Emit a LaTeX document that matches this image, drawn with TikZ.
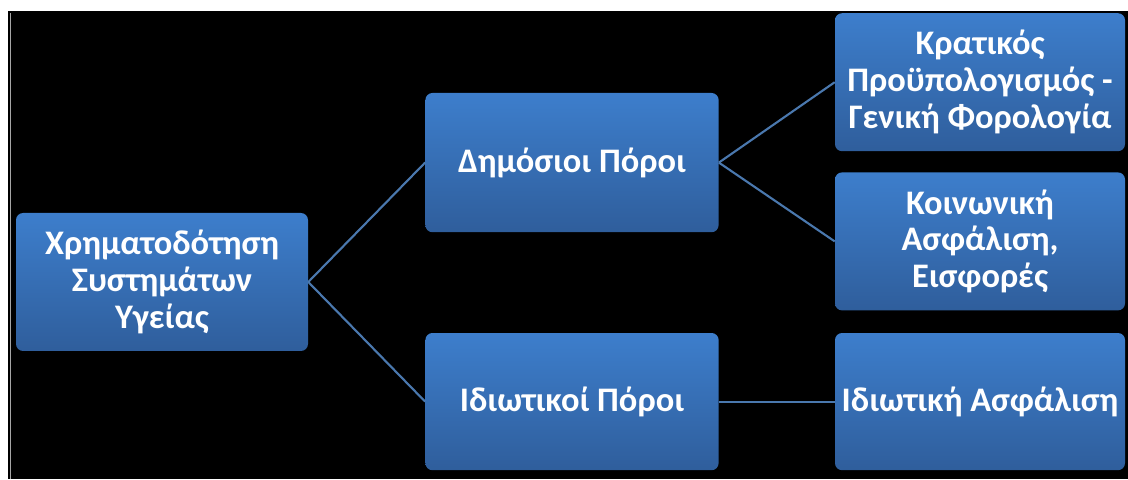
\documentclass[tikz,border=0pt]{standalone}
\usepackage{fontspec}
\setmainfont{Carlito}
\usetikzlibrary{positioning}

\begin{document}
\begin{tikzpicture}[node distance={10.25cm},
    box/.style = {rounded corners=5pt, top color=boxtop, bottom color=boxbot, draw=none,
        minimum width=7.3cm, minimum height=3.45cm, align=center, text=white,
        font=\fontsize{24.5}{26.3}\selectfont\bfseries, inner sep=2pt},
    link/.style = {draw=linkblue, line width=1.5pt}]
            \definecolor{boxtop}{HTML}{3D7ECC}
            \definecolor{boxbot}{HTML}{2F5E9C}
            \definecolor{linkblue}{HTML}{4A78AE}
            \useasboundingbox (0,0) rectangle (28.2,11.975);
            \fill[white] (0,0) rectangle (28.2,11.975);
            \fill[black] (0.2,0) rectangle (28.2,11.7);
            \draw[gray!70, line width=0.6pt] (0.27,0) -- (0.27,11.65);
            \node[box] (1) at (4.05,4.925) {Χρηματοδότηση\\Συστημάτων\\Υγείας};
            \node[box, minimum width=7.33cm, minimum height=3.48cm] (2) [right of=1, yshift=2.985cm] {Δημόσιοι Πόροι};
            \node[box, minimum width=7.33cm, minimum height=3.43cm] (3) [right of=1, yshift=-2.99cm] {Ιδιωτικοί Πόροι};
            \node[box, minimum width=7.25cm] (4) [right of=2, xshift=-0.05cm, yshift=2.01cm] {Κρατικός\\Προϋπολογισμός -\\Γενική Φορολογία};
            \node[box, minimum width=7.25cm] (5) [right of=2, xshift=-0.05cm, yshift=-1.97cm] {Κοινωνική\\Ασφάλιση,\\Εισφορές};
            \node[box, minimum width=7.25cm, minimum height=3.43cm] (6) [right of=3, xshift=-0.05cm] {Ιδιωτική Ασφάλιση};
            \draw[link] (1.east) -- (2.west);
            \draw[link] (1.east) -- (3.west);
            \draw[link] (2.east) -- (4.west);
            \draw[link] (2.east) -- (5.west);
            \draw[link] (3.east) -- (6.west);
        \end{tikzpicture}
\end{document}
